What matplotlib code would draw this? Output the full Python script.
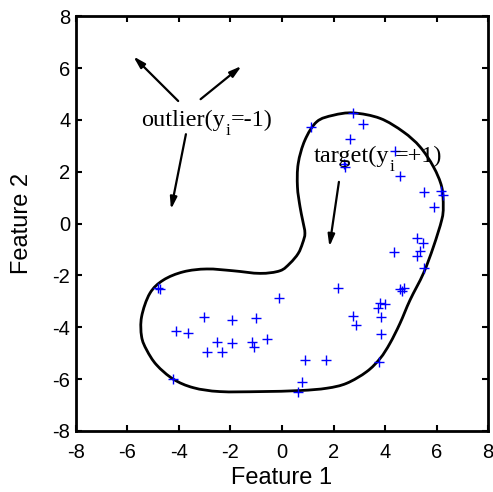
import numpy as np
import matplotlib.pyplot as plt
from matplotlib.path import Path
from matplotlib.patches import PathPatch

plt.rcParams['font.family'] = ['Liberation Sans', 'DejaVu Sans']
plt.rcParams['axes.unicode_minus'] = False

# target samples (Feature 1, Feature 2)
feat1 = [1.11, 2.75, 3.13, 2.64, 2.40, 2.45, 4.39, 4.58, 5.53, 6.17, 6.26, 5.90,
         5.23, 5.49, 5.36, 5.25, 4.35, 5.53, 2.19, 4.58, 4.75, 4.64, -0.10, 4.00,
         3.81, 3.74, 3.84, 2.75, 2.86, 3.84, 3.77, 1.71, 0.89, 0.76, 0.63, -4.22,
         -4.80, -4.74, -4.12, -3.66, -3.02, -1.93, -1.00, -2.54, -1.93, -1.15,
         -1.09, -0.60, -2.92, -2.32]
feat2 = [3.73, 4.27, 3.86, 3.25, 2.30, 2.20, 2.81, 1.84, 1.23, 1.25, 1.10, 0.65,
         -0.57, -0.74, -1.05, -1.25, -1.11, -1.73, -2.47, -2.54, -2.47, -2.60, -2.88,
         -3.11, -3.05, -3.27, -3.59, -3.55, -3.91, -4.27, -5.33, -5.26, -5.26, -6.12,
         -6.48, -5.99, -2.47, -2.52, -4.13, -4.23, -3.59, -3.72, -3.63, -4.56, -4.62,
         -4.56, -4.75, -4.45, -4.94, -4.94]

# decision boundary (closed loop)
bound_x = [2.77, 3.81, 4.71, 5.36, 5.88, 6.20, 6.26, 6.20, 5.88, 5.49, 4.97, 4.58,
           4.19, 3.81, 3.29, 2.51, 1.74, 0.70, -0.85, -2.41, -3.44, -4.22, -4.87,
           -5.25, -5.45, -5.45, -5.13, -4.61, -3.83, -2.92, -1.89, -0.85, -0.08,
           0.31, 0.63, 0.80, 0.89, 0.80, 0.70, 0.60, 0.63, 0.89, 1.35, 1.99]
bound_y = [4.27, 4.06, 3.54, 2.96, 2.19, 1.42, 0.65, 0.14, -0.89, -1.92, -2.95, -3.85,
           -4.62, -5.20, -5.71, -6.16, -6.35, -6.44, -6.48, -6.48, -6.33, -6.00, -5.45,
           -4.88, -4.36, -3.59, -2.69, -2.18, -1.86, -1.75, -1.82, -1.92, -1.82,
           -1.53, -1.15, -0.75, -0.37, 0.14, 0.65, 1.42, 2.32, 3.22, 3.93, 4.18]

ticks = [-8, -6, -4, -2, 0, 2, 4, 6, 8]


def smooth_loop(xs, ys):
    # closed Catmull-Rom through the traced points, drawn as cubic Bezier
    p = np.column_stack([xs, ys])
    n = len(p)
    verts = [p[0]]
    codes = [Path.MOVETO]
    for i in range(n):
        p0, p1, p2, p3 = p[i - 1], p[i], p[(i + 1) % n], p[(i + 2) % n]
        verts += [p1 + (p2 - p0) / 6, p2 - (p3 - p1) / 6, p2]
        codes += [Path.CURVE4] * 3
    return Path(verts, codes)


def sub_label(ax, x, y, head, sub, tail):
    # text with a dropped subscript, like y_i in the original
    serif = ['Liberation Serif', 'DejaVu Serif']
    t1 = ax.text(x, y, head, family=serif, fontsize=17.5, va='baseline')
    t2 = ax.annotate(sub, xy=(1, y), xycoords=(t1, 'data'), xytext=(0.3, -6.5),
                     textcoords='offset points', family=serif, fontsize=12.5,
                     va='baseline')
    ax.annotate(tail, xy=(1, y), xycoords=(t2, 'data'), xytext=(0.3, 0),
                textcoords='offset points', family=serif, fontsize=17.5,
                va='baseline')


fig = plt.figure(figsize=(4.93, 4.92), dpi=100)
ax = fig.add_axes([0.154, 0.124, 0.836, 0.843])

ax.add_patch(PathPatch(smooth_loop(bound_x, bound_y), fill=False, ec='k', lw=2))
ax.plot(feat1, feat2, '+', color='#0000ff', markersize=7, mew=1)

sub_label(ax, -5.45, 3.76, 'outlier(y', 'i', '=-1)')
sub_label(ax, 1.24, 2.38, 'target(y', 'i', '=+1)')

arr = dict(arrowstyle='-|>,head_length=0.7,head_width=0.2', color='k', lw=1.6,
           shrinkA=0, shrinkB=0)
ax.annotate('', xy=(-5.77, 6.45), xytext=(-4.03, 4.73), arrowprops=arr)
ax.annotate('', xy=(-1.57, 6.08), xytext=(-3.16, 4.80), arrowprops=arr)
ax.annotate('', xy=(-4.31, 0.55), xytext=(-3.73, 3.45), arrowprops=arr)
ax.annotate('', xy=(1.84, -0.89), xytext=(2.21, 1.61), arrowprops=arr)

ax.set_xlim(-8, 8)
ax.set_ylim(-8, 8)
ax.set_xticks(ticks)
ax.set_yticks(ticks)
ax.tick_params(direction='in', top=True, right=True, length=4, width=1.5,
               labelsize=14.5)
ax.tick_params(axis='x', pad=9)
ax.tick_params(axis='y', pad=4)
for s in ax.spines.values():
    s.set_linewidth(2)
ax.set_xlabel('Feature 1', fontsize=17, labelpad=3)
ax.set_ylabel('Feature 2', fontsize=17, labelpad=14)

plt.savefig('out.png', dpi=100)
